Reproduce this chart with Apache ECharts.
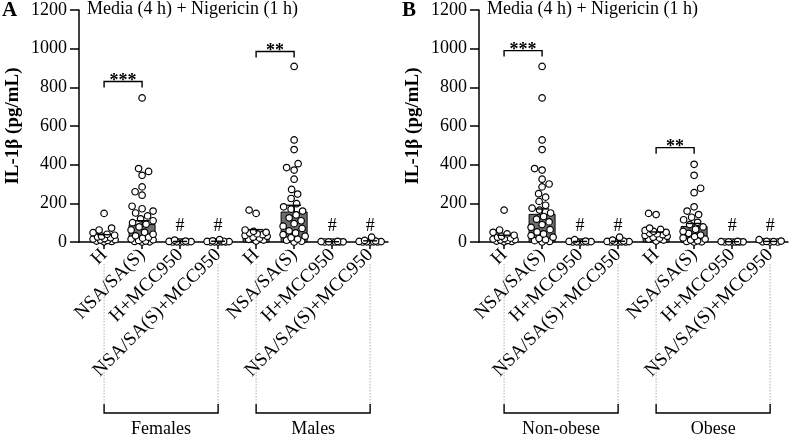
<!DOCTYPE html>
<html><head><meta charset="utf-8">
<script src="https://cdn.jsdelivr.net/npm/echarts@6/dist/echarts.min.js"></script>
<style>html,body{margin:0;padding:0;background:#fff}#c{width:797px;height:436px}</style>
</head><body><div id="c"></div>
<script>
// ---------- DATA ----------
const categories = ['H', 'NSA/SA(S)', 'H+MCC950', 'NSA/SA(S)+MCC950', 'H', 'NSA/SA(S)', 'H+MCC950', 'NSA/SA(S)+MCC950'];
const yTicks = [0, 200, 400, 600, 800, 1000, 1200];
const titleText = 'Media (4 h) + Nigericin (1 h)';
const yName = 'IL-1β (pg/mL)';
const groupSpans = [[0, 3], [4, 7]];
const hashCats = [2, 3, 6, 7];

// Panel A: Females / Males
const groupsA = ['Females', 'Males'];
const meansA = [28, 90, 2, 3, 50, 155, 1, 4];
const semA = [10, 20, 1, 1, 14, 35, 0.5, 2];
const ptsA_FH = [148, 72, 62, 48, 40, 35, 30, 26, 22, 18, 15, 12, 10, 8, 5, 3, 1];
const ptsA_FNSA = [745, 380, 365, 345, 285, 260, 242, 185, 172, 160, 150, 135, 120, 110, 100, 92, 78, 62, 50, 40, 32, 25, 20, 15, 11, 8, 5, 3, 1, 0];
const ptsA_FHM = [10, 5, 3, 2, 1, 1, 0, 0, 0];
const ptsA_FNM = [12, 6, 4, 3, 2, 1, 1, 0, 0, 0];
const ptsA_MH = [165, 148, 62, 55, 50, 46, 42, 38, 34, 30, 25, 20, 14, 10, 5];
const ptsA_MNSA = [908, 528, 478, 405, 385, 372, 325, 272, 248, 225, 198, 182, 170, 160, 140, 125, 110, 95, 82, 70, 58, 47, 38, 30, 22, 15, 9, 4, 0];
const ptsA_MHM = [3, 2, 1, 1, 0, 0, 0, 0];
const ptsA_MNM = [25, 8, 5, 3, 2, 1, 1, 0, 0, 0];
const sigPairsA = [[0, 1, 830], [4, 5, 985]];
const sigTextA = ['***', '**'];

// Panel B: Non-obese / Obese
const groupsB = ['Non-obese', 'Obese'];
const meansB = [25, 143, 2, 3, 42, 80, 1, 2];
const semB = [10, 28, 1, 1, 10, 16, 0.5, 1];
const ptsB_NH = [165, 62, 50, 42, 35, 30, 25, 20, 18, 15, 12, 10, 8, 5, 3, 1];
const ptsB_NNSA = [908, 745, 528, 478, 380, 372, 325, 300, 285, 250, 232, 210, 190, 175, 165, 150, 132, 118, 104, 90, 76, 64, 52, 42, 33, 25, 18, 12, 7, 3, 0];
const ptsB_NHM = [12, 5, 3, 2, 1, 1, 0, 0, 0];
const ptsB_NNM = [25, 10, 5, 3, 2, 1, 1, 0, 0, 0];
const ptsB_OH = [148, 142, 72, 65, 60, 55, 50, 45, 42, 38, 34, 30, 25, 20, 15, 10, 5];
const ptsB_ONSA = [402, 345, 278, 255, 182, 160, 142, 128, 115, 102, 90, 78, 66, 55, 45, 36, 28, 21, 15, 10, 6, 3, 1, 0];
const ptsB_OHM = [3, 2, 1, 1, 0, 0, 0, 0];
const ptsB_ONM = [12, 5, 3, 2, 1, 0, 0];
const sigPairsB = [[0, 1, 990], [4, 5, 488]];
const sigTextB = ['***', '**'];

const pointsA = [ptsA_FH, ptsA_FNSA, ptsA_FHM, ptsA_FNM, ptsA_MH, ptsA_MNSA, ptsA_MHM, ptsA_MNM];
const pointsB = [ptsB_NH, ptsB_NNSA, ptsB_NHM, ptsB_NNM, ptsB_OH, ptsB_ONSA, ptsB_OHM, ptsB_ONM];

// ---------- LAYOUT ----------
const FONT = '"Liberation Serif", "Times New Roman", serif';
const XMIN = -0.66, XMAX = 7.47, YMAX = 1200;
const GW = 309, GH = 232, GTOP = 10;
const grids = [
  {left: 79, top: GTOP, width: GW, height: GH, containLabel: false, outerBoundsMode: 'none'},
  {left: 479, top: GTOP, width: GW, height: GH, containLabel: false, outerBoundsMode: 'none'}
];
const kx = GW / (XMAX - XMIN), ky = GH / YMAX;

function swarm(vals, ci) {
  const sorted = vals.slice().sort((a, b) => a - b);
  const placed = [];
  const d = 7.5, L = 11;
  const out = [];
  sorted.forEach((v, idx) => {
    const y = v * ky;
    let chosen = null, bestOff = 0, bestMd = -1;
    for (let k = 0; k <= 22 && chosen === null; k++) {
      const sg = idx % 2 ? [1, -1] : [-1, 1];
      for (const s of sg) {
        const off = s * k * 0.5;
        let md = Infinity;
        for (const p of placed) { const dd = Math.hypot(p[0] - off, p[1] - y); if (dd < md) md = dd; }
        if (md >= d) { chosen = off; break; }
        if (md > bestMd) { bestMd = md; bestOff = off; }
      }
    }
    const off = chosen === null ? bestOff : chosen;
    placed.push([off, y]);
    out.push([ci + off / kx, v]);
  });
  return out;
}

function barRender(params, api) {
  const x = api.value(0), m = api.value(1);
  const p0 = api.coord([x, 0]), p1 = api.coord([x, m]);
  const hw = 13;
  return {type: 'rect', shape: {x: p0[0] - hw, y: p1[1], width: 2 * hw, height: p0[1] - p1[1]},
    style: {fill: '#6e6e6e', stroke: '#000', lineWidth: 1}};
}
function errRender(params, api) {
  const x = api.value(0), m = api.value(1), s = api.value(2);
  const p0 = api.coord([x, m]), p1 = api.coord([x, m + s]);
  const hw = 7;
  return {type: 'group', children: [
    {type: 'line', shape: {x1: p0[0], y1: p0[1], x2: p1[0], y2: p1[1]}, style: {stroke: '#000', lineWidth: 1.4}},
    {type: 'line', shape: {x1: p1[0] - hw, y1: p1[1], x2: p1[0] + hw, y2: p1[1]}, style: {stroke: '#000', lineWidth: 1.4}}
  ]};
}
function sigRender(texts) {
  return function (params, api) {
    const a = api.coord([api.value(0), api.value(2)]), b = api.coord([api.value(1), api.value(2)]);
    const drop = 6;
    return {type: 'group', children: [
      {type: 'polyline', shape: {points: [[a[0], a[1] + drop], [a[0], a[1]], [b[0], b[1]], [b[0], b[1] + drop]]}, style: {stroke: '#000', fill: null, lineWidth: 1.4}},
      {type: 'text', style: {text: texts[params.dataIndex], x: (a[0] + b[0]) / 2, y: a[1] + 9, align: 'center', verticalAlign: 'bottom', font: 'bold 18px ' + FONT, fill: '#000'}}
    ]};
  };
}
function hashRender(params, api) {
  const p = api.coord([api.value(0), 0]);
  return {type: 'text', style: {text: '#', x: p[0], y: p[1] - 7, align: 'center', verticalAlign: 'bottom', font: '18px ' + FONT, fill: '#000'}};
}
function groupRender(names) {
  return function (params, api) {
    const a = api.coord([api.value(0), 0]), b = api.coord([api.value(1), 0]);
    const y0 = a[1], by = y0 + 171, tick = 9, dotTop = y0 + 22;
    const dot = {stroke: '#b0b0b0', lineWidth: 1, lineDash: [1.5, 1.5]};
    return {type: 'group', children: [
      {type: 'line', shape: {x1: a[0], y1: dotTop, x2: a[0], y2: by - tick}, style: dot},
      {type: 'line', shape: {x1: b[0], y1: dotTop, x2: b[0], y2: by - tick}, style: dot},
      {type: 'polyline', shape: {points: [[a[0], by - tick], [a[0], by], [b[0], by], [b[0], by - tick]]}, style: {stroke: '#000', fill: null, lineWidth: 1.4}},
      {type: 'text', style: {text: names[params.dataIndex], x: (a[0] + b[0]) / 2, y: by + 16, align: 'center', verticalAlign: 'middle', font: '18px ' + FONT, fill: '#000'}}
    ]};
  };
}

const xAxes = [], yAxes = [], series = [];
const panels = [
  {means: meansA, sem: semA, pts: pointsA, sig: sigPairsA, sigText: sigTextA, groups: groupsA},
  {means: meansB, sem: semB, pts: pointsB, sig: sigPairsB, sigText: sigTextB, groups: groupsB}
];
const idx8 = categories.map((c, i) => i);
panels.forEach((P, g) => {
  xAxes.push({
    gridIndex: g, type: 'value', min: XMIN, max: XMAX,
    splitLine: {show: false},
    axisLine: {show: true, onZero: false, lineStyle: {color: '#000', width: 1.5}},
    axisTick: {show: true, customValues: idx8, length: 7, lineStyle: {color: '#000', width: 1.5}},
    axisLabel: {show: true, customValues: idx8, rotate: 45, margin: 10, formatter: v => categories[Math.round(v)],
      fontFamily: FONT, fontSize: 19, color: '#000'}
  });
  yAxes.push({
    gridIndex: g, type: 'value', min: 0, max: YMAX, interval: 200,
    name: yName, nameLocation: 'middle', nameGap: 56, nameRotate: 90,
    nameTextStyle: {fontFamily: FONT, fontSize: 19, fontWeight: 'bold', color: '#000'},
    splitLine: {show: false},
    axisLine: {show: true, onZero: false, lineStyle: {color: '#000', width: 1.5}},
    axisTick: {show: true, length: 9, lineStyle: {color: '#000', width: 1.5}},
    axisLabel: {margin: 12, fontFamily: FONT, fontSize: 18, color: '#000', formatter: v => String(v)}
  });
  series.push({
    type: 'custom', xAxisIndex: g, yAxisIndex: g, z: 2, renderItem: barRender,
    data: P.means.map((m, i) => [i, m])
  });
  const sc = [];
  P.pts.forEach((arr, i) => swarm(arr, i).forEach(p => sc.push(p)));
  series.push({
    type: 'scatter', xAxisIndex: g, yAxisIndex: g, z: 3, symbol: 'circle', symbolSize: 6.5,
    data: sc, itemStyle: {color: '#fff', borderColor: '#000', borderWidth: 1.2, opacity: 1}
  });
  series.push({
    type: 'custom', xAxisIndex: g, yAxisIndex: g, z: 4, renderItem: errRender,
    data: P.means.map((m, i) => [i, m, P.sem[i]])
  });
  series.push({
    type: 'custom', xAxisIndex: g, yAxisIndex: g, z: 5, renderItem: sigRender(P.sigText),
    data: P.sig
  });
  series.push({
    type: 'custom', xAxisIndex: g, yAxisIndex: g, z: 5, renderItem: hashRender,
    data: hashCats.map(c => [c, 0])
  });
  series.push({
    type: 'custom', xAxisIndex: g, yAxisIndex: g, z: 1, renderItem: groupRender(P.groups),
    data: groupSpans
  });
});

const chart = echarts.init(document.getElementById('c'), null, {renderer: 'canvas'});
chart.setOption({
  animation: false,
  backgroundColor: '#fff',
  grid: grids,
  xAxis: xAxes,
  yAxis: yAxes,
  series: series,
  graphic: [
    {type: 'text', left: 2, top: 0, style: {text: 'A', font: 'bold 21px ' + FONT, fill: '#000'}},
    {type: 'text', left: 87, top: 0, style: {text: titleText, font: '18px ' + FONT, fill: '#000'}},
    {type: 'text', left: 402, top: 0, style: {text: 'B', font: 'bold 21px ' + FONT, fill: '#000'}},
    {type: 'text', left: 487, top: 0, style: {text: titleText, font: '18px ' + FONT, fill: '#000'}}
  ]
});
</script>
</body></html>
